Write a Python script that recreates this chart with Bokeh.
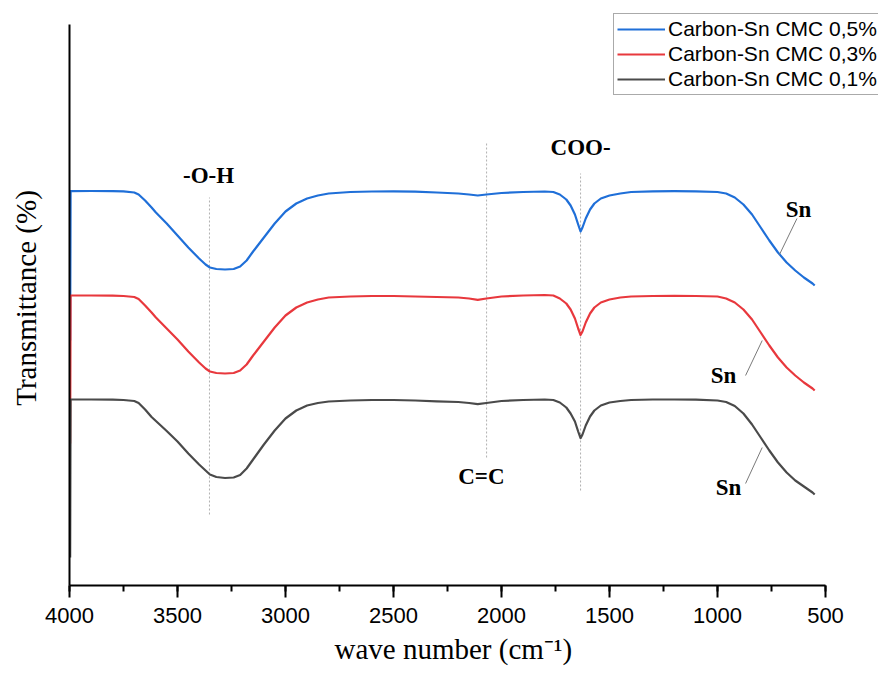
from bokeh.plotting import figure
from bokeh.models import Range1d, SingleIntervalTicker, FixedTicker, Legend, LegendItem, Label, Title
from bokeh.embed import file_html
from bokeh.resources import INLINE

# ---------------- data ----------------
wavenumber = [3997, 3995, 3900, 3800, 3750, 3700, 3680, 3650, 3620, 3600, 3550, 3500, 3450, 3400,
              3370, 3350, 3320, 3280, 3240, 3210, 3180, 3150, 3100, 3050, 3000, 2950, 2900,
              2850, 2800, 2700, 2600, 2500, 2400, 2300, 2200, 2150, 2110, 2070, 2000, 1900,
              1800, 1760, 1730, 1700, 1680, 1660, 1645, 1634, 1625, 1610, 1590, 1570, 1540,
              1500, 1450, 1400, 1300, 1200, 1100, 1000, 960, 920, 880, 840, 800, 760, 720,
              680, 640, 600, 560, 550]

cmc_05 = [24.5, 39.43, 39.45, 39.44, 39.42, 39.3, 39.1, 38.5, 37.8, 37.3, 36.2, 35.0, 33.8, 32.7,
          32.1, 31.8, 31.65, 31.6, 31.65, 31.9, 32.5, 33.4, 34.8, 36.2, 37.4, 38.2, 38.7,
          39.0, 39.2, 39.35, 39.4, 39.42, 39.38, 39.3, 39.2, 39.1, 39.0, 39.1, 39.25, 39.35,
          39.4, 39.35, 39.1, 38.6, 38.0, 37.1, 36.1, 35.4, 35.8, 36.7, 37.6, 38.2, 38.7,
          39.0, 39.2, 39.35, 39.42, 39.44, 39.42, 39.35, 39.2, 38.8, 38.1, 37.1, 35.8, 34.5, 33.3,
          32.3, 31.5, 30.8, 30.2, 30.0]

cmc_03 = [14.2, 29.0, 29.0, 28.98, 28.95, 28.85, 28.65, 28.0, 27.3, 26.8, 25.7, 24.6, 23.4, 22.3,
          21.7, 21.4, 21.25, 21.2, 21.25, 21.5, 22.1, 23.0, 24.4, 25.8, 27.0, 27.8, 28.3,
          28.6, 28.8, 28.9, 28.95, 28.95, 28.9, 28.85, 28.8, 28.7, 28.57, 28.7, 28.9, 29.0,
          29.05, 29.0, 28.7, 28.2, 27.6, 26.7, 25.7, 25.05, 25.4, 26.3, 27.2, 27.8, 28.3,
          28.6, 28.8, 28.9, 28.95, 28.97, 28.95, 28.9, 28.7, 28.3, 27.6, 26.6, 25.3, 24.0, 22.8,
          21.8, 21.0, 20.3, 19.7, 19.5]

cmc_01 = [2.8, 18.6, 18.6, 18.58, 18.55, 18.45, 18.25, 17.6, 16.85, 16.45, 15.45, 14.4, 13.2, 12.1,
          11.5, 11.1, 10.85, 10.75, 10.8, 11.05, 11.7, 12.6, 14.1, 15.5, 16.7, 17.5, 18.0,
          18.25, 18.4, 18.5, 18.55, 18.55, 18.5, 18.42, 18.35, 18.25, 18.13, 18.25, 18.45, 18.55,
          18.6, 18.55, 18.3, 17.8, 17.2, 16.4, 15.4, 14.73, 15.1, 16.0, 16.9, 17.5, 18.0,
          18.3, 18.45, 18.55, 18.6, 18.6, 18.58, 18.5, 18.35, 17.95, 17.2, 16.1, 14.8, 13.5, 12.3,
          11.3, 10.5, 9.9, 9.3, 9.1]

series_names = ["Carbon-Sn CMC 0,5%", "Carbon-Sn CMC 0,3%", "Carbon-Sn CMC 0,1%"]
series_colors = ["#1f6fd8", "#e8383d", "#4a4a4a"]

peak_wn = [3352, 2069, 1634]
peak_labels = ["-O-H", "C=C", "COO-"]

x_ticks_interval = 500
x_axis_bounds = (500, 4000)
y_axis_bounds = (0, 56.1)

# ---------------- figure ----------------
# frame widened so the legend (which sits partly beyond the axes) is not clipped;
# the axes themselves are limited with `bounds`.
p = figure(width=880, height=672,
           x_range=Range1d(4000, 254.6), y_range=Range1d(0, 57.5),
           output_backend="svg", toolbar_location=None,
           min_border_left=69, min_border_right=2, min_border_top=10, min_border_bottom=87)
p.xgrid.visible = False
p.ygrid.visible = False
p.outline_line_color = None
p.background_fill_color = "white"
p.border_fill_color = "white"

# x axis
xa = p.xaxis[0]
xa.bounds = x_axis_bounds
xa.ticker = SingleIntervalTicker(interval=x_ticks_interval, num_minor_ticks=2)
xa.axis_line_width = 2
xa.axis_line_color = "black"
xa.major_tick_line_width = 2
xa.minor_tick_line_width = 2
xa.major_tick_out = 12
xa.major_tick_in = 0
xa.minor_tick_out = 6
xa.minor_tick_in = 0
xa.major_label_text_font = "Liberation Sans"
xa.major_label_text_font_size = "22px"
xa.major_label_text_color = "black"
xa.major_label_standoff = 10

# x axis title, centred under the axis line (not under the widened frame)
p.add_layout(Title(text="wave number (cm\u207b\u00b9)", align="left", offset=265,
                   text_font="Liberation Serif", text_font_style="normal",
                   text_font_size="29px", text_color="black", standoff=11), "below")

# y axis
ya = p.yaxis[0]
ya.bounds = y_axis_bounds
ya.ticker = FixedTicker(ticks=[])
ya.axis_line_width = 2
ya.axis_line_color = "black"
ya.major_tick_line_color = None
ya.minor_tick_line_color = None
ya.major_label_standoff = 0
ya.axis_label = "Transmittance (%)"
ya.axis_label_text_font = "Liberation Serif"
ya.axis_label_text_font_style = "normal"
ya.axis_label_text_font_size = "29px"
ya.axis_label_text_color = "black"
ya.axis_label_standoff = 28

# dotted guide lines at peaks
guide_y0 = [7.1, 12.8, 9.5]
guide_y1 = [38.8, 44.3, 41.2]
p.segment(x0=peak_wn, y0=guide_y0, x1=peak_wn, y1=guide_y1,
          line_color="#b0b0b0", line_width=1, line_dash="2 2")

# spectra
renderers = []
for ys, c in zip([cmc_05, cmc_03, cmc_01], series_colors):
    r = p.line(wavenumber, ys, line_color=c, line_width=2.2, line_join="round")
    renderers.append(r)

# Sn leader lines
p.segment(x0=[632, 870, 870], y0=[36.7, 21.0, 10.2], x1=[713, 793, 793], y1=[33.1, 24.5, 13.8],
          line_color="#7a7a7a", line_width=1)

# peak labels
lab_pos = [(3356, 41.0), (2093, 10.9), (1634, 43.8)]
for (lx, ly), t in zip(lab_pos, peak_labels):
    p.add_layout(Label(x=lx, y=ly, text=t, text_align="center", text_baseline="middle",
                       text_font="Liberation Serif", text_font_style="bold",
                       text_font_size="23px", text_color="black"))
for lx, ly in [(625, 37.6), (972, 21.0), (949, 9.8)]:
    p.add_layout(Label(x=lx, y=ly, text="Sn", text_align="center", text_baseline="middle",
                       text_font="Liberation Serif", text_font_style="bold",
                       text_font_size="23px", text_color="black"))

# legend (position in screen px from the frame's bottom-left corner)
legend = Legend(items=[LegendItem(label=n, renderers=[r]) for n, r in zip(series_names, renderers)],
                location=(544, 490), orientation="vertical",
                label_text_font="Liberation Sans", label_text_font_size="21px",
                label_text_color="black", label_standoff=3,
                glyph_width=48, glyph_height=24, label_height=24, spacing=1,
                padding=3, margin=0,
                border_line_color="#555555", border_line_width=1,
                background_fill_color="white", background_fill_alpha=1.0)
p.add_layout(legend)

open("out.html", "w").write(file_html(p, INLINE))
